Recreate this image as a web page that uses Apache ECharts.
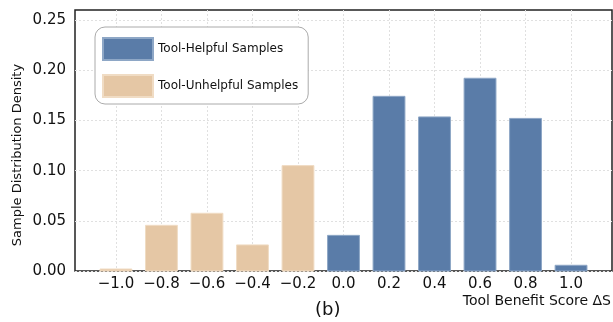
<!DOCTYPE html>
<html>
<head>
<meta charset="utf-8">
<script src="https://cdn.jsdelivr.net/npm/echarts@6/dist/echarts.min.js"></script>
<style>html,body{margin:0;padding:0;background:#fff}#c{width:613px;height:322px}</style>
</head>
<body>
<div id="c"></div>
<script>
const helpfulX = [0.0, 0.2, 0.4, 0.6, 0.8, 1.0];
const helpfulY = [0.0355, 0.174, 0.1535, 0.192, 0.152, 0.0057];
const unhelpfulX = [-1.0, -0.8, -0.6, -0.4, -0.2];
const unhelpfulY = [0.002, 0.0455, 0.0575, 0.026, 0.105];
const xTicks = [-1.0, -0.8, -0.6, -0.4, -0.2, 0.0, 0.2, 0.4, 0.6, 0.8, 1.0];
const yTicks = [0.00, 0.05, 0.10, 0.15, 0.20, 0.25];
const barWidthData = 0.14;

const chart = echarts.init(document.getElementById('c'), null, {renderer: 'canvas'});
const fontMain = 'DejaVu Sans';
function barSeries(name, xs, ys, color, stroke) {
  return {
    name: name,
    type: 'custom',
    data: xs.map((x, i) => [x, ys[i]]),
    encode: {x: 0, y: 1},
    itemStyle: {color: color, borderColor: stroke, borderWidth: 1},
    z: 1,
    renderItem: function (params, api) {
      const x = api.value(0), y = api.value(1);
      const p1 = api.coord([x - barWidthData / 2, y]);
      const p2 = api.coord([x + barWidthData / 2, 0]);
      return {
        type: 'rect',
        shape: {x: p1[0], y: p1[1], width: p2[0] - p1[0], height: p2[1] - p1[1]},
        style: {fill: color, stroke: stroke, lineWidth: 1}
      };
    }
  };
}
chart.setOption({
  animation: false,
  grid: {left: 75, right: 1, top: 10, bottom: 51, show: true, borderColor: '#222', borderWidth: 1.5},
  xAxis: {
    type: 'value', min: -1.18, max: 1.18,
    axisLine: {show: false},
    axisTick: {show: false, customValues: xTicks},
    axisLabel: {customValues: xTicks, fontFamily: fontMain, fontSize: 15, color: '#111', margin: 6,
      formatter: v => v.toFixed(1).replace('-', '\u2212')},
    splitLine: {show: true, lineStyle: {color: '#e0e0e0', type: [2, 2], width: 1}}
  },
  yAxis: {
    type: 'value', min: 0, max: 0.26,
    axisLine: {show: false},
    axisTick: {show: false, customValues: yTicks},
    axisLabel: {customValues: yTicks, fontFamily: fontMain, fontSize: 15, color: '#111', margin: 9,
      formatter: v => v.toFixed(2)}, 
    splitLine: {show: true, lineStyle: {color: '#e0e0e0', type: [2, 2], width: 1}}
  },
  legend: {
    show: true, orient: 'vertical', left: 95, top: 27,
    data: ['Tool-Helpful Samples', 'Tool-Unhelpful Samples'],
    itemWidth: 50, itemHeight: 22, itemGap: 13,
    padding: [10, 10, 6, 7],
    borderColor: '#aaa', borderWidth: 1, borderRadius: 10, backgroundColor: '#fff',
    textStyle: {fontFamily: fontMain, fontSize: 12, color: '#111'},
    icon: 'rect'
  },
  graphic: [
    {type: 'text', x: 18, y: 155, rotation: Math.PI / 2,
      style: {text: 'Sample Distribution Density', font: '13px "DejaVu Sans"', fill: '#111', align: 'center', verticalAlign: 'middle'}},
    {type: 'text', right: 2, top: 294, style: {text: 'Tool Benefit Score \u0394S', font: '14px "DejaVu Sans"', fill: '#111'}},
    {type: 'text', left: 315, top: 301, style: {text: '(b)', font: '18px "DejaVu Sans"', fill: '#111'}}
  ],
  series: [
    barSeries('Tool-Helpful Samples', helpfulX, helpfulY, '#5a7ca8', '#8ea7c6'),
    barSeries('Tool-Unhelpful Samples', unhelpfulX, unhelpfulY, '#e5c7a5', '#f0dcc4')
  ]
});
</script>
</body>
</html>
